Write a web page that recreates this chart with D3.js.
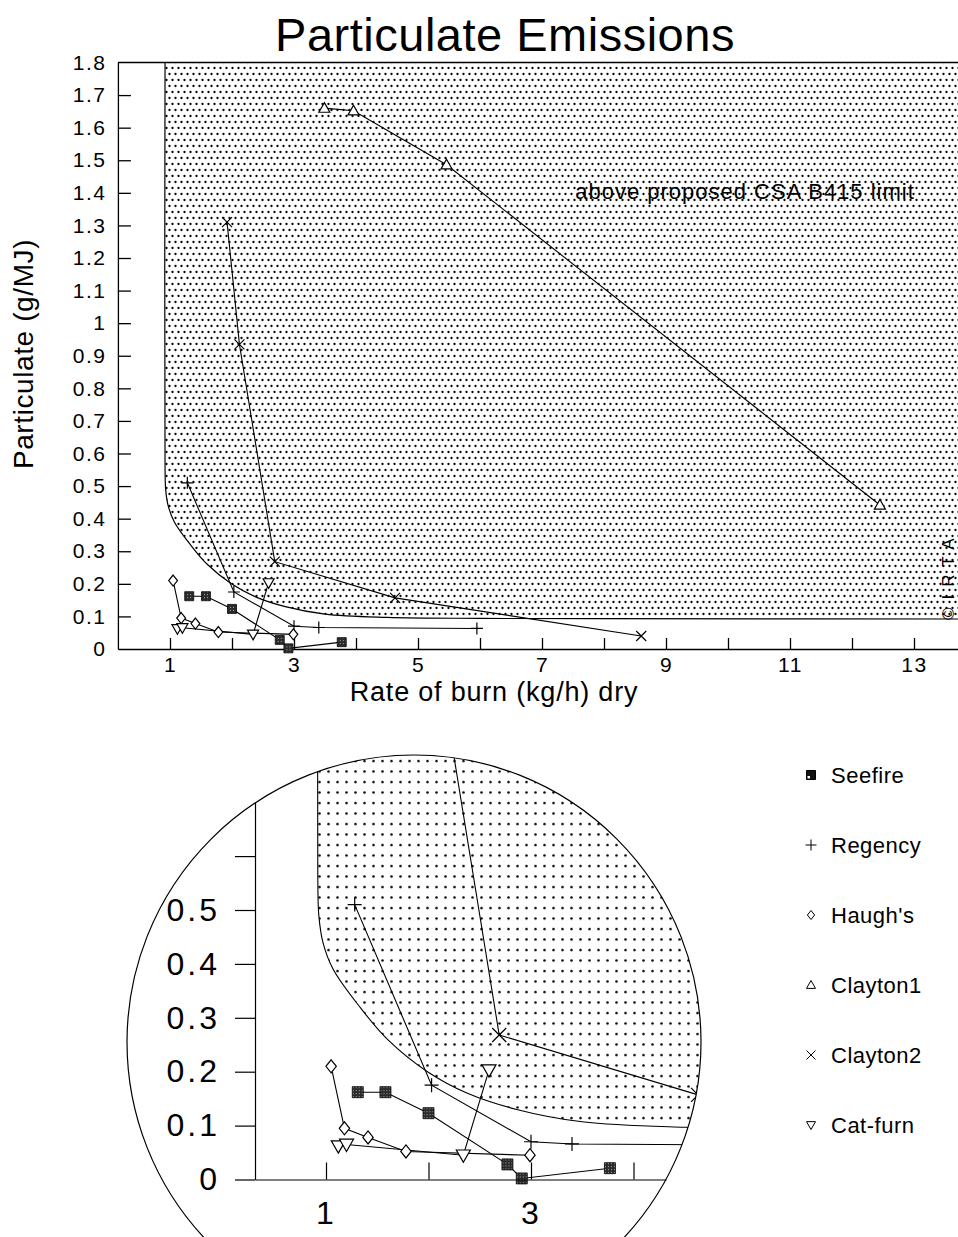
<!DOCTYPE html>
<html>
<head>
<meta charset="utf-8">
<script src="https://cdn.jsdelivr.net/npm/d3@7"></script>
<style>
  body { margin: 0; background: #fff; }
  svg { display: block; font-family: "Liberation Sans", Arial, Helvetica, sans-serif; }
</style>
</head>
<body>
<svg id="chart" width="958" height="1237"></svg>
<script>
// ---- data ----
var seriesNames = ["Seefire", "Regency", "Haugh's", "Clayton1", "Clayton2", "Cat-furn"];

var seefireX = [1.31, 1.58, 2.0, 2.77, 2.91, 3.77];
var seefireY = [0.162, 0.162, 0.123, 0.028, 0.002, 0.021];
var regencyX = [1.28, 2.03, 3.0, 3.4, 5.95];
var regencyY = [0.51, 0.175, 0.07, 0.066, 0.063];
var haughsX = [1.05, 1.18, 1.41, 1.78, 2.99];
var haughsY = [0.21, 0.095, 0.078, 0.052, 0.045];
var clayton1X = [3.49, 3.96, 5.46, 12.45];
var clayton1Y = [1.66, 1.652, 1.486, 0.442];
var clayton2X = [1.92, 2.12, 2.69, 4.63, 8.6];
var clayton2Y = [1.31, 0.935, 0.268, 0.157, 0.04];
var catfurnX = [1.12, 1.2, 2.34, 2.59];
var catfurnY = [0.062, 0.065, 0.045, 0.203];

// proposed CSA B415 limit curve
var limitX = [0.92, 0.92, 0.93, 0.97, 1.07, 1.33, 1.6, 1.99, 2.38, 2.86, 3.5, 4.5, 6, 8, 15];
var limitY = [1.8, 0.56, 0.49, 0.44, 0.39, 0.32, 0.26, 0.2, 0.16, 0.13, 0.107, 0.097, 0.094, 0.093, 0.092];

// ticks
var yTickValues = [0, 0.1, 0.2, 0.3, 0.4, 0.5, 0.6, 0.7, 0.8, 0.9, 1, 1.1, 1.2, 1.3, 1.4, 1.5, 1.6, 1.7, 1.8];
var xTickValues = [1, 2, 3, 4, 5, 6, 7, 8, 9, 10, 11, 12, 13];
var xTickLabels = [1, 3, 5, 7, 9, 11, 13];
var insetYTickValues = [0, 0.1, 0.2, 0.3, 0.4, 0.5, 0.6];
var insetYTickLabels = [0, 0.1, 0.2, 0.3, 0.4, 0.5];
var insetXTickValues = [1, 2, 3, 4];
var insetXTickLabels = [1, 3];

var allX = [seefireX, regencyX, haughsX, clayton1X, clayton2X, catfurnX];
var allY = [seefireY, regencyY, haughsY, clayton1Y, clayton2Y, catfurnY];

var series = seriesNames.map(function(n, i) {
  return { name: n, pts: d3.zip(allX[i], allY[i]) };
});
var limitPts = d3.zip(limitX, limitY);

// marker type per series
var symbolFor = {
  "Seefire": "square", "Regency": "plus", "Haugh's": "diamond",
  "Clayton1": "triUp", "Clayton2": "cross", "Cat-furn": "triDown"
};

function symbolPath(type, s) {
  switch (type) {
    case "plus": return "M" + (-s) + ",0H" + s + "M0," + (-s) + "V" + s;
    case "diamond": return "M0," + (-s) + "L" + (s * 0.8) + ",0L0," + s + "L" + (-s * 0.8) + ",0Z";
    case "triUp": return "M0," + (-s) + "L" + s + "," + (s * 0.75) + "L" + (-s) + "," + (s * 0.75) + "Z";
    case "cross": return "M" + (-s) + "," + (-s) + "L" + s + "," + s + "M" + (-s) + "," + s + "L" + s + "," + (-s);
    case "triDown": return "M0," + s + "L" + s + "," + (-s * 0.75) + "L" + (-s) + "," + (-s * 0.75) + "Z";
    default: return "M" + (-s) + "," + (-s) + "H" + s + "V" + s + "H" + (-s) + "Z";
  }
}
function symbolFill(type) {
  if (type == "square") return "url(#speck)";
  if (type == "plus" || type == "cross") return "none";
  return "#fff";
}

var svg = d3.select("#chart");
svg.append("rect").attr("width", 958).attr("height", 1237).attr("fill", "#fff");

var defs = svg.append("defs");

var pMain = defs.append("pattern").attr("id", "dotsMain")
  .attr("patternUnits", "userSpaceOnUse").attr("width", 6).attr("height", 12);
pMain.append("circle").attr("cx", 1.5).attr("cy", 2).attr("r", 1.15).attr("fill", "#000");
pMain.append("circle").attr("cx", 4.5).attr("cy", 8).attr("r", 1.15).attr("fill", "#000");

var pInset = defs.append("pattern").attr("id", "dotsInset")
  .attr("patternUnits", "userSpaceOnUse").attr("width", 9).attr("height", 10.5);
pInset.append("circle").attr("cx", 4.5).attr("cy", 5).attr("r", 1.25).attr("fill", "#000");

var speck = defs.append("pattern").attr("id", "speck")
  .attr("patternUnits", "userSpaceOnUse").attr("width", 3).attr("height", 3);
speck.append("rect").attr("width", 3).attr("height", 3).attr("fill", "#2a2a2a");
speck.append("rect").attr("x", 1).attr("y", 1).attr("width", 1).attr("height", 1).attr("fill", "#b0b0b0");

// ---------------- main chart ----------------
var xMin = 0.16, xMax = 14.5;
var x = d3.scaleLinear().domain([1, 13]).range([170, 914]);
var y = d3.scaleLinear().domain([0, 1.8]).range([649, 62.5]);

defs.append("clipPath").attr("id", "frame").append("rect")
  .attr("x", x(xMin)).attr("y", y(1.8))
  .attr("width", x(xMax) - x(xMin)).attr("height", y(0) - y(1.8));

var limitLine = function(xs, ys) {
  return d3.line().x(d => xs(d[0])).y(d => ys(d[1])).curve(d3.curveCatmullRom.alpha(0.5));
};

function shadePath(xs, ys, right, top) {
  var last = limitPts[limitPts.length - 1];
  return limitLine(xs, ys)(limitPts) +
    "L" + xs(right) + "," + ys(last[1]) +
    "L" + xs(right) + "," + ys(top) + "Z";
}

var main = svg.append("g");
var plotArea = main.append("g").attr("clip-path", "url(#frame)");

plotArea.append("path")
  .attr("d", shadePath(x, y, xMax, 1.8))
  .attr("fill", "url(#dotsMain)");
plotArea.append("path")
  .attr("d", limitLine(x, y)(limitPts))
  .attr("fill", "none").attr("stroke", "#000").attr("stroke-width", 1.2);

// frame top
main.append("path")
  .attr("d", "M" + x(xMin) + "," + y(1.8) + "H" + x(xMax))
  .attr("stroke", "#000").attr("stroke-width", 1.3);

var fmt = d3.format("~g");

var yAxis = main.append("g")
  .attr("transform", "translate(" + x(xMin) + ",0)")
  .call(d3.axisLeft(y).tickValues(yTickValues).tickSize(-13).tickSizeOuter(0).tickPadding(11.5)
    .tickFormat(fmt));
yAxis.selectAll("line").filter(d => d == 0 || d == 1.8).remove();

var xAxisScale = x.copy().domain([xMin, xMax]).range([x(xMin), x(xMax)]);
var xAxis = main.append("g")
  .attr("transform", "translate(0," + y(0) + ")")
  .call(d3.axisBottom(xAxisScale).tickValues(xTickValues).tickSize(-11).tickSizeOuter(0).tickPadding(8)
    .tickFormat(d => xTickLabels.indexOf(d) >= 0 ? d : ""));

[yAxis, xAxis].forEach(function(a) {
  a.attr("font-family", null).attr("font-size", null);
  a.selectAll("path, line").attr("stroke", "#000").attr("stroke-width", 1.3);
  a.selectAll("text").attr("fill", "#000").attr("font-size", 21).attr("letter-spacing", 1.5);
});

function drawSeries(g, xs, ys, sizes) {
  var line = d3.line().x(d => xs(d[0])).y(d => ys(d[1]));
  g.selectAll("path.series")
    .data(series)
    .enter()
    .append("path")
    .attr("class", "series")
    .attr("d", d => line(d.pts))
    .attr("fill", "none").attr("stroke", "#000").attr("stroke-width", 1.1);

  series.forEach(function(s) {
    var t = symbolFor[s.name];
    g.selectAll(null)
      .data(s.pts)
      .enter()
      .append("path")
      .attr("transform", d => "translate(" + xs(d[0]) + "," + ys(d[1]) + ")")
      .attr("d", symbolPath(t, sizes[t]))
      .attr("fill", symbolFill(t))
      .attr("stroke", "#000")
      .attr("stroke-width", t == "square" ? 0.8 : 1.2);
  });
}

drawSeries(main.append("g"), x, y,
  { square: 4.5, plus: 6, diamond: 5.5, triUp: 5.5, cross: 5, triDown: 5.5 });

main.append("text")
  .attr("x", 745).attr("y", 199)
  .attr("text-anchor", "middle")
  .attr("font-size", 22).attr("letter-spacing", 1)
  .text("above proposed CSA B415 limit");

main.append("text")
  .attr("transform", "translate(954,620) rotate(-90)")
  .attr("font-size", 17).attr("letter-spacing", 8)
  .text("\u00A9IRTA");

// titles
svg.append("text")
  .attr("x", 505).attr("y", 51)
  .attr("text-anchor", "middle")
  .attr("font-size", 47).attr("letter-spacing", 0.5)
  .text("Particulate Emissions");

svg.append("text")
  .attr("transform", "translate(33,354) rotate(-90)")
  .attr("text-anchor", "middle")
  .attr("font-size", 28).attr("letter-spacing", 0.6)
  .text("Particulate (g/MJ)");

svg.append("text")
  .attr("x", 494).attr("y", 701)
  .attr("text-anchor", "middle")
  .attr("font-size", 27).attr("letter-spacing", 0.8)
  .text("Rate of burn (kg/h) dry");

// ---------------- magnified inset ----------------
var lens = { cx: 414, cy: 1042, r: 287 };
defs.append("clipPath").attr("id", "lens").append("circle")
  .attr("cx", lens.cx).attr("cy", lens.cy).attr("r", lens.r);

var xi = d3.scaleLinear().domain([1, 3]).range([326, 531]);
var yi = d3.scaleLinear().domain([0, 0.5]).range([1179.5, 910]);
var xiMin = xi.invert(255), xiMax = xi.invert(666);
var yiMax = yi.invert(802.5);

var inset = svg.append("g");
var lensArea = inset.append("g").attr("clip-path", "url(#lens)");

lensArea.append("path")
  .attr("d", shadePath(xi, yi, 6, 1.8))
  .attr("fill", "url(#dotsInset)");
lensArea.append("path")
  .attr("d", limitLine(xi, yi)(limitPts))
  .attr("fill", "none").attr("stroke", "#000").attr("stroke-width", 1.1);

var yiAxisScale = yi.copy().domain([0, yiMax]).range([yi(0), yi(yiMax)]);
var yiAxis = inset.append("g")
  .attr("transform", "translate(" + xi(xiMin) + ",0)")
  .call(d3.axisLeft(yiAxisScale).tickValues(insetYTickValues).tickSize(20).tickSizeOuter(0).tickPadding(15)
    .tickFormat(d => insetYTickLabels.indexOf(d) >= 0 ? fmt(d) : ""));

var xiAxisScale = xi.copy().domain([xiMin, xiMax]).range([xi(xiMin), xi(xiMax)]);
var xiAxis = inset.append("g")
  .attr("transform", "translate(0," + yi(0) + ")")
  .call(d3.axisBottom(xiAxisScale).tickValues(insetXTickValues).tickSize(-17).tickSizeOuter(0).tickPadding(22)
    .tickFormat(d => insetXTickLabels.indexOf(d) >= 0 ? d : ""));

[yiAxis, xiAxis].forEach(function(a) {
  a.attr("font-family", null).attr("font-size", null);
  a.selectAll("path, line").attr("stroke", "#000").attr("stroke-width", 1.2);
  a.selectAll("text").attr("fill", "#000").attr("font-size", 32).attr("letter-spacing", 3);
});

drawSeries(lensArea.append("g"), xi, yi,
  { square: 5.5, plus: 7, diamond: 6.5, triUp: 6.5, cross: 7, triDown: 7 });

inset.append("circle")
  .attr("cx", lens.cx).attr("cy", lens.cy).attr("r", lens.r)
  .attr("fill", "none").attr("stroke", "#000").attr("stroke-width", 1.2);

// ---------------- legend ----------------
var legend = svg.append("g").attr("transform", "translate(811,775)");
var rows = legend.selectAll("g")
  .data(seriesNames)
  .enter()
  .append("g")
  .attr("transform", (d, i) => "translate(0," + i * 70 + ")");

rows.append("path")
  .attr("d", d => symbolPath(symbolFor[d], symbolFor[d] == "plus" ? 5.5 : 4.5))
  .attr("fill", d => symbolFor[d] == "square" ? "#111" : symbolFill(symbolFor[d]))
  .attr("stroke", "#000")
  .attr("stroke-width", 1);
rows.filter(d => symbolFor[d] == "square")
  .append("rect")
  .attr("x", -3.5).attr("y", 1).attr("width", 2.5).attr("height", 2.5)
  .attr("fill", "#fff");

rows.append("text")
  .attr("x", 20).attr("y", 8)
  .attr("font-size", 22).attr("letter-spacing", 0.5)
  .text(d => d);
</script>
</body>
</html>
